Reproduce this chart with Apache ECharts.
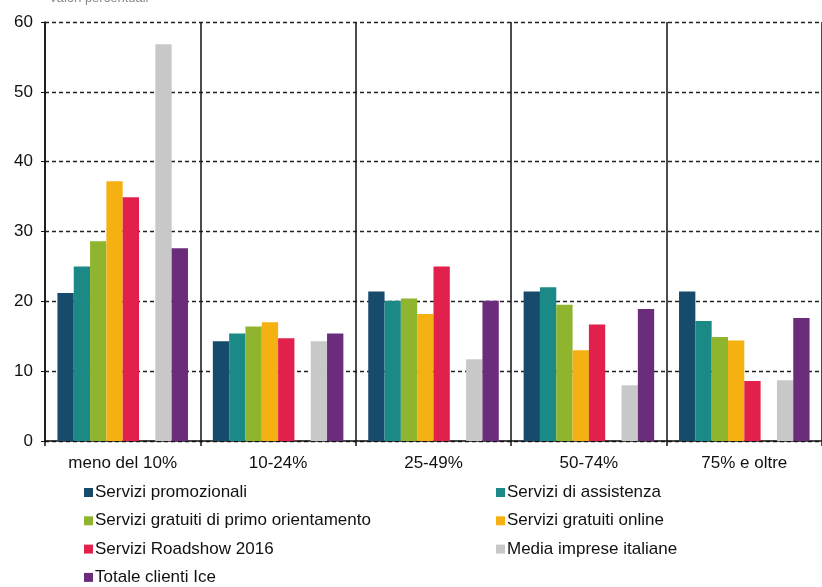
<!DOCTYPE html>
<html>
<head>
<meta charset="utf-8">
<script src="https://cdn.jsdelivr.net/npm/echarts@6/dist/echarts.min.js"></script>
<style>
  html, body { margin: 0; padding: 0; background: #fff; }
  #chart { width: 822px; height: 587px; }
</style>
</head>
<body>
<div id="chart"></div>
<script>
let chart = document.getElementById('chart');

var categories = ['meno del 10%', '10-24%', '25-49%', '50-74%', '75% e oltre'];
var yTicks = [0, 10, 20, 30, 40, 50, 60];

var promozionali = [21.2, 14.3, 21.4, 21.4, 21.4];
var assistenza = [25.0, 15.4, 20.1, 22.0, 17.2];
var primoOrientamento = [28.6, 16.4, 20.4, 19.5, 14.9];
var gratuitiOnline = [37.2, 17.0, 18.2, 13.0, 14.4];
var roadshow = [34.9, 14.7, 25.0, 16.7, 8.6];
var mediaImprese = [56.8, 14.3, 11.7, 8.0, 8.7];
var totaleIce = [27.6, 15.4, 20.1, 18.9, 17.6];

var seriesNames = [
    'Servizi promozionali',
    'Servizi di assistenza',
    'Servizi gratuiti di primo orientamento',
    'Servizi gratuiti online',
    'Servizi Roadshow 2016',
    'Media imprese italiane',
    'Totale clienti Ice'
];
var seriesData = [promozionali, assistenza, primoOrientamento, gratuitiOnline, roadshow, mediaImprese, totaleIce];
var colors = ['#174b6c', '#1b8a86', '#8fb42d', '#f5b012', '#e1214b', '#c8c8c8', '#6b2d7b'];

var series = [];
for (var i = 0; i < seriesNames.length; i++) {
    if (i === 5) {
        // empty slot between Roadshow and Media imprese
        series.push({
            name: 'gap',
            type: 'bar',
            barGap: 0,
            barCategoryGap: '16%',
            data: categories.map(function () { return null; })
        });
    }
    series.push({
        name: seriesNames[i],
        type: 'bar',
        barGap: 0,
        barCategoryGap: '16%',
        itemStyle: { color: colors[i] },
        data: seriesData[i]
    });
}

// one legend per entry, two columns
var legends = [];
for (var j = 0; j < seriesNames.length; j++) {
    legends.push({
        left: j % 2 === 0 ? 84 : 496,
        top: 484 + Math.floor(j / 2) * 28.3,
        itemWidth: 9,
        itemHeight: 9,
        itemGap: 4,
        icon: 'rect',
        padding: 0,
        textStyle: {
            fontFamily: 'Liberation Sans, Arial, sans-serif',
            fontSize: 17,
            color: '#111',
            padding: [0, 0, 0, -3]
        },
        data: [seriesNames[j]]
    });
}

option = {
    animation: false,
    title: {
        text: 'Valori percentuali',
        left: 44,
        top: -13,
        textStyle: {
            color: '#888',
            fontSize: 13,
            fontWeight: 'normal',
            fontFamily: 'Liberation Sans, Arial, sans-serif'
        }
    },
    legend: legends,
    grid: {
        top: 22,
        left: 45,
        right: -8,
        bottom: 146
    },
    xAxis: {
        type: 'category',
        data: categories,
        axisLine: { lineStyle: { color: '#111', width: 1.5 } },
        axisTick: { show: true, length: 5, lineStyle: { color: '#111', width: 1.5 } },
        axisLabel: {
            margin: 14,
            color: '#111',
            fontSize: 17,
            fontFamily: 'Liberation Sans, Arial, sans-serif'
        },
        splitLine: {
            show: true,
            lineStyle: { color: '#111', width: 1.5 }
        }
    },
    yAxis: {
        type: 'value',
        min: yTicks[0],
        max: yTicks[yTicks.length - 1],
        interval: 10,
        axisLine: { show: true, lineStyle: { color: '#111', width: 1.5 } },
        axisTick: { show: true, length: 4, lineStyle: { color: '#111' } },
        axisLabel: {
            margin: 12,
            color: '#111',
            fontSize: 17,
            fontFamily: 'Liberation Sans, Arial, sans-serif'
        },
        splitLine: {
            show: true,
            lineStyle: { color: '#222', width: 1.3, type: [4, 3] }
        }
    },
    series: series
};

echarts.init(chart).setOption(option, true);
</script>
</body>
</html>
